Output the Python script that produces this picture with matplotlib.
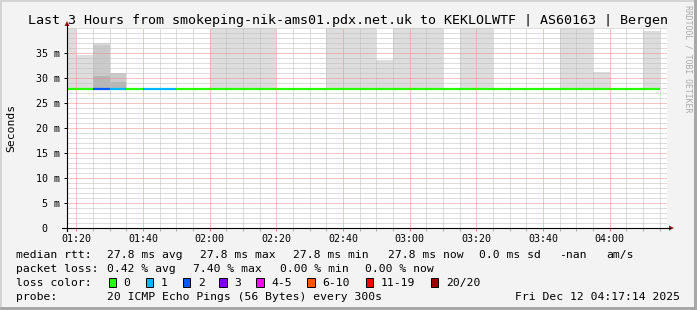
import numpy as np
import matplotlib
matplotlib.use("Agg")
import matplotlib.pyplot as plt
from matplotlib.patches import Rectangle, Polygon
from matplotlib.lines import Line2D

W, H = 697, 310
MONO = "DejaVu Sans Mono"

# ---------------- data ----------------
title = "Last 3 Hours from smokeping-nik-ams01.pdx.net.uk to KEKLOLWTF | AS60163 | Bergen"
bin_times = ["01:15", "01:20", "01:25", "01:30", "01:35", "01:40", "01:45", "01:50", "01:55",
             "02:00", "02:05", "02:10", "02:15", "02:20", "02:25", "02:30", "02:35", "02:40",
             "02:45", "02:50", "02:55", "03:00", "03:05", "03:10", "03:15", "03:20", "03:25",
             "03:30", "03:35", "03:40", "03:45", "03:50", "03:55", "04:00", "04:05", "04:10"]
nan = np.nan
median_ms = [27.8] * 36
smoke_outer = [45, 34.6, 37.1, nan, nan, nan, nan, nan, nan,
               45, 45, 45, 45, nan, nan, nan, 45, 45,
               45, 33.6, 45, 45, 45, nan, 45, 45, nan,
               nan, nan, nan, 45, 45, 31.3, nan, nan, 39.4]
smoke_mid = [nan, nan, 36.6, 31.1] + [nan] * 32
smoke_inner = [nan, nan, 30.5, 29.3] + [nan] * 32
lost_pings = [0, 0, 2, 1, 0, 1, 1, 0, 0] + [0] * 27

x_tick_labels = ["01:20", "01:40", "02:00", "02:20", "02:40", "03:00", "03:20", "03:40", "04:00"]
y_ticks_ms = [0, 5, 10, 15, 20, 25, 30, 35]
t_start, t_end = "01:17:14", "04:17:14"

loss_names = ["0", "1", "2", "3", "4-5", "6-10", "11-19", "20/20"]
loss_colors = ["#26ff00", "#00b8ff", "#0059ff", "#7e00ff", "#ff00ff", "#ff5500", "#ff0000", "#a10000"]

rtt_stats = ["27.8 ms avg", "27.8 ms max", "27.8 ms min", "27.8 ms now", "0.0 ms sd", "-nan", "am/s"]
loss_stats = ["0.42 % avg", "7.40 % max", "0.00 % min", "0.00 % now"]
probe_text = "20 ICMP Echo Pings (56 Bytes) every 300s"
date_text = "Fri Dec 12 04:17:14 2025"


def to_min(s):
    p = [int(v) for v in s.split(":")]
    while len(p) < 3:
        p.append(0)
    return p[0] * 60 + p[1] + p[2] / 60.0


starts = np.array([to_min(t) for t in bin_times])
med = np.array(median_ms)

# ---------------- figure ----------------
fig = plt.figure(figsize=(W / 100, H / 100), dpi=100)
fig.patch.set_facecolor("#f3f3f3")

def fx(x):
    return x / W

def fy(y):
    return 1 - y / H

ax = fig.add_axes([fx(67), fy(228), 600 / W, 200 / H])
ax.set_facecolor("white")
ax.set_xlim(to_min(t_start), to_min(t_end))
ax.set_ylim(0, 40)

layers = [(smoke_outer, "#dddddd"), (smoke_mid, "#cacaca"), (smoke_inner, "#b6b6b6")]
for vals, col in layers:
    v = np.array(vals, dtype=float)
    ax.bar(starts, v - med, bottom=med, width=5, align="edge", color=col,
           linewidth=0, zorder=1)

for s, m, l in zip(starts, med, lost_pings):
    ax.hlines(m, s, s + 5, colors=loss_colors[l], lw=1.6, zorder=3)

ax.set_xticks([to_min(t) for t in x_tick_labels])
ax.set_xticklabels(x_tick_labels)
ax.set_xticks(np.arange(to_min("01:20"), to_min(t_end), 5), minor=True)
ax.set_yticks([v for v in y_ticks_ms])
ax.set_yticklabels([f"{v:>2} m" if v else " 0  " for v in y_ticks_ms])
ax.set_yticks(np.arange(0, 41, 1), minor=True)

ax.set_axisbelow(False)
ax.grid(which="major", color="#ec8a8a", ls=(0, (1, 1)), lw=0.72, zorder=2)
ax.grid(which="minor", color="#bdbdbd", ls=(0, (1, 1)), lw=0.72, zorder=2)
for sp in ax.spines.values():
    sp.set_visible(False)

ax.tick_params(axis="x", which="major", length=2, width=0.72, color="#e08080",
               pad=2, labelsize=7.2)
ax.tick_params(axis="x", which="minor", length=2, width=0.72, color="#b0b0b0")
ax.tick_params(axis="y", which="major", length=2.2, width=0.72, color="black",
               pad=20.1, labelsize=7.2)
ax.tick_params(axis="y", which="minor", length=0)
for lab in ax.get_xticklabels() + ax.get_yticklabels():
    lab.set_family(MONO)
for lab in ax.get_yticklabels():
    lab.set_ha("left")

# axes lines with arrows
fig.add_artist(Line2D([fx(67), fx(67)], [fy(231), fy(24)], color="black", lw=0.8))
fig.add_artist(Line2D([fx(62), fx(670)], [fy(228), fy(228)], color="black", lw=0.8))
fig.add_artist(Polygon([[fx(64.5), fy(26)], [fx(69.5), fy(26)], [fx(67), fy(21)]],
                       closed=True, color="#9b1b1b", lw=0))
fig.add_artist(Polygon([[fx(669), fy(225.5)], [fx(669), fy(230.5)], [fx(674), fy(228)]],
                       closed=True, color="#9b1b1b", lw=0))

# border
fig.add_artist(Rectangle((0, fy(2)), 1, 2 / H, transform=fig.transFigure, color="#d4d4d4", lw=0))
fig.add_artist(Rectangle((0, 0), 2 / W, 1, transform=fig.transFigure, color="#d4d4d4", lw=0))
fig.add_artist(Rectangle((fx(694), 0), 3 / W, 1, transform=fig.transFigure, color="#a8a8a8", lw=0))
fig.add_artist(Rectangle((0, 0), 1, 3 / H, transform=fig.transFigure, color="#a8a8a8", lw=0))

# texts
fig.text(fx(348.5), fy(24), title, ha="center", va="baseline", family=MONO, size=9.6)
fig.text(fx(11), fy(128), "Seconds", rotation=90, ha="center", va="center", family=MONO, size=8.2)
fig.text(fx(688), fy(5), "RRDTOOL / TOBI OETIKER", rotation=270, ha="center", va="top",
         family=MONO, size=5.9, color="#aaaaaa")

LS = 8.2
def T(x, y, s, **kw):
    fig.text(fx(x), fy(y), s, va="baseline", family=MONO, size=LS, **kw)

rows_y = [258.3, 272.1, 286.0, 299.8]
T(16, rows_y[0], "median rtt:")
for x, s in zip([107.3, 200, 293.3, 388.3, 479.3, 559, 606.7], rtt_stats):
    T(x, rows_y[0], s)
T(16, rows_y[1], "packet loss:")
for x, s in zip([107.3, 193.3, 280, 365], loss_stats):
    T(x, rows_y[1], s)
T(16, rows_y[2], "loss color:")
for x, name, col in zip([108.7, 145.7, 182.7, 219.3, 256, 307.3, 365.7, 430.7], loss_names, loss_colors):
    fig.add_artist(Rectangle((fx(x), fy(287)), 7.5 / W, 9 / H, transform=fig.transFigure,
                             facecolor=col, edgecolor="black", lw=0.7))
    T(x + 15, rows_y[2], name)
T(16, rows_y[3], "probe:")
T(107.3, rows_y[3], probe_text)
T(680, rows_y[3], date_text, ha="right")

fig.savefig("out.png", dpi=100, facecolor=fig.get_facecolor())
